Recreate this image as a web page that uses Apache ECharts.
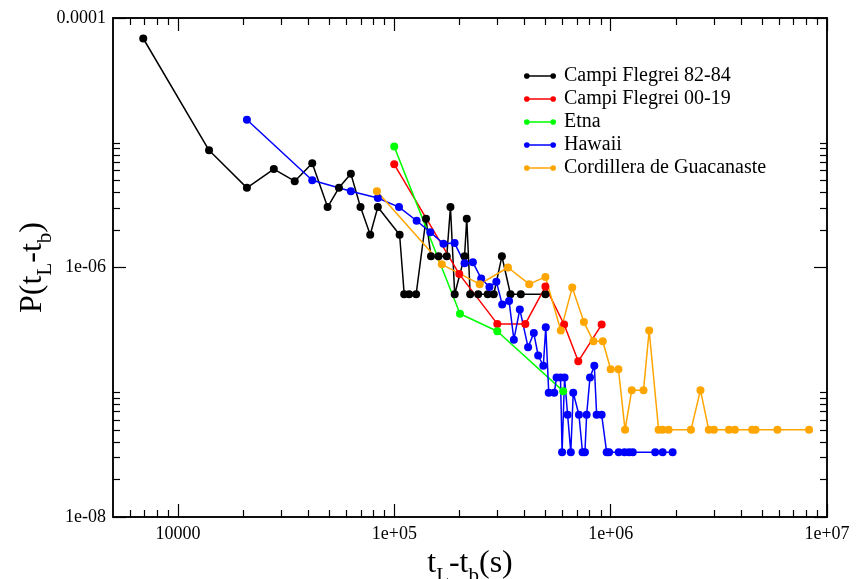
<!DOCTYPE html>
<html>
<head>
<meta charset="utf-8">
<script src="https://cdn.jsdelivr.net/npm/echarts@6/dist/echarts.min.js"></script>
<style>html,body{margin:0;padding:0;background:#fff}#c{width:859px;height:579px}</style>
</head>
<body>
<div id="c"></div>
<script>
// ---- data ----
const seriesNames = ['Campi Flegrei 82-84', 'Campi Flegrei 00-19', 'Etna', 'Hawaii', 'Cordillera de Guacanaste'];
const seriesColors = ['#000000', '#ff0000', '#00ff00', '#0000ff', '#ffa500'];

const cf8284X = [6900, 13900, 20800, 27700, 34600, 41700, 49100, 55400, 62900, 69700, 77300, 83800, 105700, 111000, 117000, 126000, 140000, 147600, 160000, 174600, 181600, 190000, 211000, 216000, 224000, 244000, 270000, 288000, 314000, 344000, 384000, 499000];
const cf8284Y = [6.85e-5, 8.7e-6, 4.35e-6, 6.15e-6, 4.92e-6, 6.84e-6, 3.05e-6, 4.35e-6, 5.64e-6, 3.05e-6, 1.83e-6, 3.05e-6, 1.83e-6, 6.1e-7, 6.1e-7, 6.1e-7, 2.46e-6, 1.23e-6, 1.23e-6, 1.23e-6, 3.05e-6, 6.1e-7, 1.23e-6, 2.46e-6, 6.1e-7, 6.1e-7, 6.1e-7, 6.1e-7, 1.23e-6, 6.1e-7, 6.1e-7, 6.1e-7];

const cf0019X = [99800, 199500, 299000, 403000, 499000, 609000, 708000, 908000];
const cf0019Y = [6.71e-6, 8.85e-7, 3.53e-7, 3.53e-7, 7.03e-7, 3.49e-7, 1.77e-7, 3.49e-7];

const etnaX = [99800, 201000, 299000, 603000];
const etnaY = [9.31e-6, 4.26e-7, 3.08e-7, 1.02e-7];

const hawaiiX = [20800, 41700, 62900, 83800, 105000, 126700, 146500, 168600, 189800, 211000, 230600, 252000, 275000, 296000, 315000, 339000, 356700, 380000, 415000, 441000, 462000, 488000, 501000, 517000, 548000, 562000, 586000, 596000, 612000, 632000, 654000, 671000, 713000, 741000, 760000, 774000, 802000, 840000, 861000, 908000, 958000, 983000, 1089000, 1158000, 1216000, 1265000, 1606000, 1738000, 1933000];
const hawaiiY = [1.53e-5, 5.01e-6, 4.08e-6, 3.61e-6, 3.05e-6, 2.37e-6, 1.92e-6, 1.55e-6, 1.57e-6, 1.08e-6, 1.1e-6, 8.15e-7, 6.98e-7, 7.7e-7, 5.06e-7, 5.38e-7, 2.64e-7, 4.61e-7, 2.29e-7, 2.98e-7, 1.97e-7, 1.63e-7, 3.32e-7, 9.9e-8, 9.9e-8, 1.31e-7, 1.31e-7, 3.3e-8, 1.31e-7, 6.6e-8, 3.3e-8, 9.9e-8, 6.6e-8, 3.3e-8, 3.3e-8, 6.6e-8, 1.31e-7, 1.63e-7, 6.6e-8, 6.6e-8, 3.3e-8, 3.3e-8, 3.3e-8, 3.3e-8, 3.3e-8, 3.3e-8, 3.3e-8, 3.3e-8, 3.3e-8];

const guacX = [83000, 165600, 248000, 335000, 420000, 499000, 588000, 664000, 752000, 832000, 919000, 1000000, 1086000, 1165000, 1251000, 1418000, 1506000, 1665000, 1738000, 1852000, 2350000, 2600000, 2840000, 3000000, 3520000, 3750000, 4510000, 4670000, 5900000, 8260000];
const guacY = [4.08e-6, 1.06e-6, 7.35e-7, 1.0e-6, 7.35e-7, 8.41e-7, 3.13e-7, 6.9e-7, 3.65e-7, 2.56e-7, 2.56e-7, 1.53e-7, 1.53e-7, 5.0e-8, 1.04e-7, 1.04e-7, 3.13e-7, 5.0e-8, 5.0e-8, 5.0e-8, 5.0e-8, 1.04e-7, 5.0e-8, 5.0e-8, 5.0e-8, 5.0e-8, 5.0e-8, 5.0e-8, 5.0e-8, 5.0e-8];

// ---- axes / ticks ----
const xMin = 5000, xMax = 1e7;
const yMin = 1e-8, yMax = 1e-4;
const xMajor = [1e4, 1e5, 1e6, 1e7];
const xMajorLabels = ['10000', '1e+05', '1e+06', '1e+07'];
const yMajor = [1e-8, 1e-6, 1e-4];
const yMajorLabels = ['1e-08', '1e-06', '0.0001'];
const xMinorMultipliers = [2, 3, 4, 5, 6, 7, 8, 9];
const xMinorDecades = [1e3, 1e4, 1e5, 1e6];
const yMinorMultipliers = [2, 3, 4, 5, 6, 7, 8, 9, 10];
const yMinorDecades = [1e-8, 1e-6];

const xMinor = [];
xMinorDecades.forEach(d => xMinorMultipliers.forEach(k => { const v = k * d; if (v > xMin && v < xMax) xMinor.push(v); }));
const yMinor = [];
yMinorDecades.forEach(d => yMinorMultipliers.forEach(k => yMinor.push(k * d)));

function labelFor(v, majors, labels) {
  for (let i = 0; i < majors.length; i++) {
    if (Math.abs(Math.log10(v) - Math.log10(majors[i])) < 1e-6) return labels[i];
  }
  return '';
}

const FONT = 'Liberation Serif';
const axisLineStyle = { show: true, lineStyle: { color: '#000', width: 1.5 } };
const gridRect = { left: 113, right: 32, top: 18, bottom: 62, containLabel: false, outerBoundsMode: 'none' };

function xAx(grid, pos, ticks, len, withLabel, extra) {
  return Object.assign({
    type: 'log', logBase: 10, min: xMin, max: xMax, position: pos, gridIndex: grid,
    axisLine: axisLineStyle,
    axisTick: { show: true, inside: true, length: len, customValues: ticks, lineStyle: { color: '#000', width: 1.2 } },
    axisLabel: withLabel ? {
      show: true, customValues: xMajor, margin: 8, color: '#000', fontFamily: FONT, fontSize: 18,
      formatter: v => labelFor(v, xMajor, xMajorLabels)
    } : { show: false },
    splitLine: { show: false }, minorTick: { show: false }
  }, extra || {});
}
function yAx(grid, pos, ticks, len, withLabel, extra) {
  return Object.assign({
    type: 'log', logBase: 10, min: yMin, max: yMax, position: pos, gridIndex: grid,
    axisLine: axisLineStyle,
    axisTick: { show: true, inside: true, length: len, customValues: ticks, lineStyle: { color: '#000', width: 1.2 } },
    axisLabel: withLabel ? {
      show: true, customValues: yMajor, margin: 7, color: '#000', fontFamily: FONT, fontSize: 18,
      formatter: v => labelFor(v, yMajor, yMajorLabels)
    } : { show: false },
    splitLine: { show: false }, minorTick: { show: false }
  }, extra || {});
}

const nameRich = {
  n: { fontFamily: FONT, fontSize: 32, color: '#000', lineHeight: 32, verticalAlign: 'top' },
  s: { fontFamily: FONT, fontSize: 21, color: '#000', lineHeight: 21, verticalAlign: 'top', padding: [18, 0, 0, 0] }
};

const xs = [cf8284X, cf0019X, etnaX, hawaiiX, guacX];
const ys = [cf8284Y, cf0019Y, etnaY, hawaiiY, guacY];

const legendIcon = 'path://M3,0.5A3,3,0,1,1,3,6.5A3,3,0,1,1,3,0.5ZM3,2.6H31V4.4H3ZM31,0.5A3,3,0,1,1,31,6.5A3,3,0,1,1,31,0.5Z';

const option = {
  animation: false,
  backgroundColor: '#fff',
  grid: [Object.assign({}, gridRect), Object.assign({}, gridRect)],
  legend: {
    orient: 'vertical', left: 519, top: 61, itemGap: 3, itemWidth: 32, itemHeight: 7,
    icon: legendIcon,
    textStyle: { fontFamily: FONT, fontSize: 20, color: '#000', lineHeight: 20, padding: [0, 0, 0, 3] },
    data: seriesNames
  },
  xAxis: [
    xAx(0, 'bottom', xMajor, 13, true, {
      name: '{n|t}{s|L}{n|-t}{s|b}{n|(s)}', nameLocation: 'middle', nameGap: 28,
      nameTextStyle: { rich: nameRich }
    }),
    xAx(0, 'top', xMajor, 13, false),
    xAx(1, 'bottom', xMinor, 7, false),
    xAx(1, 'top', xMinor, 7, false)
  ],
  yAxis: [
    yAx(0, 'left', yMajor, 13, true, {
      name: '{n|P(t}{s|L}{n|-t}{s|b}{n|)}', nameLocation: 'middle', nameGap: 64, nameRotate: 90,
      nameMoveOverlap: false,
      nameTextStyle: { rich: nameRich }
    }),
    yAx(0, 'right', yMajor, 13, false),
    yAx(1, 'left', yMinor, 7, false),
    yAx(1, 'right', yMinor, 7, false)
  ],
  series: seriesNames.map((name, i) => ({
    name: name, type: 'line', xAxisIndex: 0, yAxisIndex: 0,
    data: xs[i].map((x, j) => [x, ys[i][j]]),
    symbol: 'circle', symbolSize: 8, showSymbol: true,
    lineStyle: { color: seriesColors[i], width: 1.5 },
    itemStyle: { color: seriesColors[i] },
    emphasis: { disabled: true }
  }))
};

const chart = echarts.init(document.getElementById('c'), null, { renderer: 'canvas' });
chart.setOption(option);
</script>
</body>
</html>
